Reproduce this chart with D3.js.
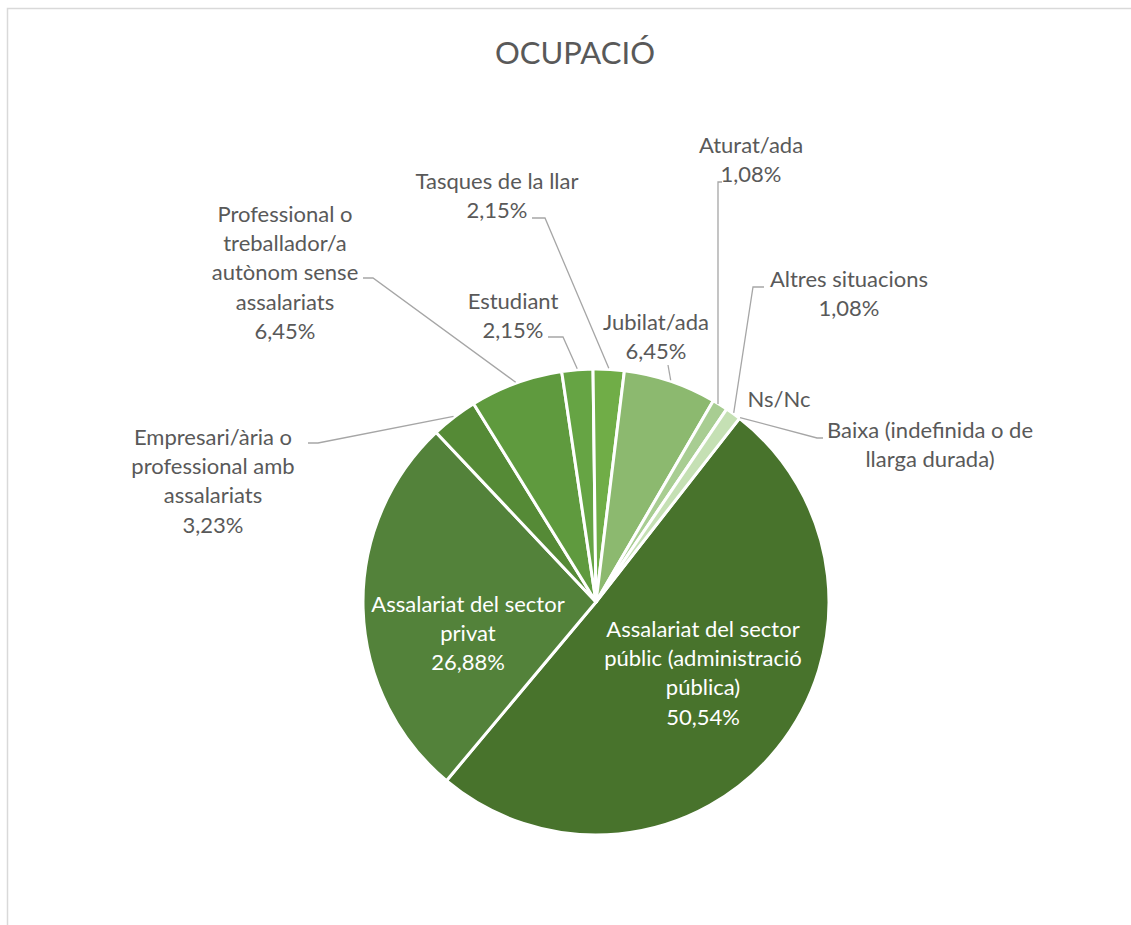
<!DOCTYPE html>
<html>
<head>
<meta charset="utf-8">
<script src="https://cdn.jsdelivr.net/npm/d3@7"></script>
<style>
  html, body { margin: 0; padding: 0; background: #fff; }
  svg { display: block; }
</style>
</head>
<body>
<svg id="chart" width="1131" height="925"></svg>
<script>
// ---------- DATA ----------
const title = "OCUPACIÓ";
const categories = [
  "Assalariat del sector públic (administració pública)",
  "Assalariat del sector privat",
  "Empresari/ària o professional amb assalariats",
  "Professional o treballador/a autònom sense assalariats",
  "Estudiant",
  "Tasques de la llar",
  "Jubilat/ada",
  "Aturat/ada",
  "Altres situacions",
  "Ns/Nc",
  "Baixa (indefinida o de llarga durada)"
];
const values = [50.54, 26.88, 3.23, 6.45, 2.15, 2.15, 6.45, 1.08, 1.08, 0, 0];
const labelLines = [
  ["Assalariat del sector", "públic (administració", "pública)"],
  ["Assalariat del sector", "privat"],
  ["Empresari/ària o", "professional amb", "assalariats"],
  ["Professional o", "treballador/a", "autònom sense", "assalariats"],
  ["Estudiant"],
  ["Tasques de la llar"],
  ["Jubilat/ada"],
  ["Aturat/ada"],
  ["Altres situacions"],
  ["Ns/Nc"],
  ["Baixa (indefinida o de", "llarga durada)"]
];
const colors = ["#48732c", "#53823a", "#558a36", "#5f9a3e", "#66a444", "#70ad47",
                "#8cb96f", "#a8cd92", "#c5e0b4", "#d6e9ca", "#e2efd9"];

// ---------- LAYOUT ----------
const W = 1131, H = 925;
const cx = 596, cy = 602, R = 233;
const startDeg = 38;
const lineH = 29.2;
const font = "Lato, 'Open Sans', sans-serif";
const textColor = "#595959";
const leaderColor = "#a6a6a6";

// label placement: x center, first baseline, inside flag, leader hook points
const labelPos = [
  { x: 703, y: 637, inside: true },
  { x: 468, y: 612, inside: true },
  { x: 213, y: 445, hook: [[308, 443], [318, 443]] },
  { x: 285, y: 222, hook: [[363, 278], [373, 278]] },
  { x: 513, y: 309, hook: [[548, 337], [563, 337]] },
  { x: 497, y: 189, hook: [[532, 218], [545, 218]] },
  { x: 656, y: 330, hook: [[668, 365]] },
  { x: 751, y: 153, hook: [[722, 182], [718, 182]], vertical: true },
  { x: 849, y: 287, hook: [[764, 287], [753, 287]] },
  { x: 779, y: 407 },
  { x: 930, y: 438, hook: [[823, 438], [817, 438]] }
];

const fmt = v => v.toFixed(2).replace(".", ",") + "%";

const svg = d3.select("#chart");

// chart frame
svg.append("path")
  .attr("d", `M7.5,${H + 5} L7.5,8.5 L${W + 5},8.5`)
  .attr("fill", "none")
  .attr("stroke", "#d9d9d9")
  .attr("stroke-width", 1.5);

// title
svg.append("text")
  .attr("x", 575).attr("y", 64)
  .attr("text-anchor", "middle")
  .attr("font-family", font)
  .attr("font-size", 31)
  .attr("fill", textColor)
  .text(title);

const data = categories.map((c, i) => ({ cat: c, value: values[i], i }));

const pie = d3.pie()
  .sort(null)
  .value(d => d.value)
  .startAngle(startDeg * Math.PI / 180)
  .endAngle(startDeg * Math.PI / 180 + 2 * Math.PI);

const arcs = pie(data);
const arc = d3.arc().innerRadius(0).outerRadius(R);

const g = svg.append("g").attr("transform", `translate(${cx},${cy})`);

g.selectAll("path.slice")
  .data(arcs.filter(a => a.data.value > 0))
  .join("path")
  .attr("class", "slice")
  .attr("d", arc)
  .attr("fill", d => colors[d.data.i])
  .attr("stroke", "#fff")
  .attr("stroke-width", 3)
  .attr("stroke-linejoin", "round");

// leader lines
const edgePoint = (a, r) => {
  const m = (a.startAngle + a.endAngle) / 2;
  return [cx + r * Math.sin(m), cy - r * Math.cos(m)];
};

arcs.forEach(a => {
  const lp = labelPos[a.data.i];
  if (!lp.hook) return;
  const pts = lp.hook.slice();
  let e = edgePoint(a, R + 1);
  if (lp.vertical) e = [pts[pts.length - 1][0], e[1]];
  pts.push(e);
  svg.append("path")
    .attr("d", d3.line()(pts))
    .attr("fill", "none")
    .attr("stroke", leaderColor)
    .attr("stroke-width", 1.3);
});

// labels
arcs.forEach(a => {
  const i = a.data.i;
  const lp = labelPos[i];
  const lines = labelLines[i].slice();
  if (a.data.value > 0) lines.push(fmt(a.data.value));
  const t = svg.append("text")
    .attr("text-anchor", "middle")
    .attr("font-family", font)
    .attr("font-size", 22)
    .attr("fill", lp.inside ? "#ffffff" : textColor);
  lines.forEach((l, k) => {
    t.append("tspan")
      .attr("x", lp.x)
      .attr("y", lp.y + k * lineH)
      .text(l);
  });
});
</script>
</body>
</html>
